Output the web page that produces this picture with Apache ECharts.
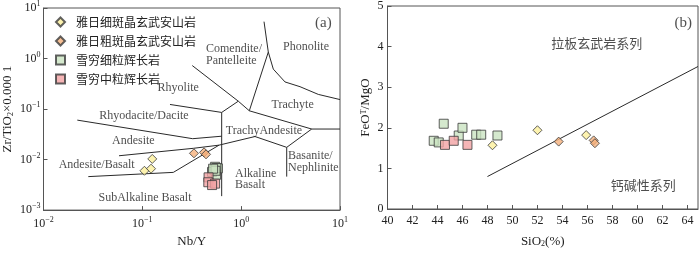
<!DOCTYPE html>
<html><head><meta charset="utf-8">
<script src="https://cdn.jsdelivr.net/npm/echarts@6/dist/echarts.min.js"></script>
<style>html,body{margin:0;padding:0;background:#fff}#c{width:700px;height:253px}</style>
</head><body><div id="c"></div>
<script>
const groupNames = ['雅日细斑晶玄武安山岩', '雅日粗斑晶玄武安山岩', '雪穷细粒辉长岩', '雪穷中粒辉长岩'];

// (a) Nb/Y vs Zr/TiO2*0.0001
const aYariFine = [[0.126, 0.0103], [0.105, 0.0060], [0.1225, 0.0066]];
const aYariCoarse = [[0.333, 0.0133], [0.421, 0.0139], [0.441, 0.0127]];
const aXueqiongFine = [[0.545, 0.0072], [0.582, 0.0067], [0.53, 0.0062], [0.507, 0.0057], [0.557, 0.0050], [0.56, 0.0068], [0.55, 0.0060], [0.52, 0.0066]];
const aXueqiongMedium = [[0.468, 0.00445], [0.465, 0.00356], [0.545, 0.00334], [0.508, 0.00313]];
const aXTicks = [0.01, 0.1, 1, 10];
const aYTicks = [0.001, 0.01, 0.1, 1, 10];

// (a) field boundaries (Winchester & Floyd)
const bndRhyoliteComendite = [[0.320, 0.726], [0.935, 0.143], [1.209, 0.0924]];
const bndRhyoliteRhyodacite = [[0.1905, 0.1233], [0.635, 0.0857], [0.935, 0.143]];
const bndVertical = [[0.635, 0.0857], [0.635, 0.00189]];
const bndComenditePhonolite = [[1.703, 5.37], [1.882, 1.342], [1.209, 0.0924]];
const bndPhonoliteTrachyte = [[1.882, 1.342], [2.114, 0.617], [2.777, 0.344], [3.94, 0.277], [6.03, 0.195], [10, 0.154]];
const bndTrachyteTrAn = [[1.209, 0.0924], [5.17, 0.0402], [10, 0.0402]];
const bndRhyodaciteAndesite = [[0.02198, 0.0604], [0.3233, 0.0259], [0.635, 0.0290]];
const bndAndesiteBasalt = [[0.0581, 0.0119], [0.328, 0.0167], [0.597, 0.0193], [1.380, 0.0286], [2.889, 0.01745], [5.17, 0.0402]];
const bndBasanite = [[2.889, 0.01745], [2.889, 0.0046]];
const bndSubalkaline = [[0.0284, 0.0046], [0.2058, 0.00558], [0.597, 0.0193]];
const boundaries = [bndRhyoliteComendite, bndRhyoliteRhyodacite, bndVertical, bndComenditePhonolite, bndPhonoliteTrachyte, bndTrachyteTrAn, bndRhyodaciteAndesite, bndAndesiteBasalt, bndBasanite, bndSubalkaline];

const fieldLabelsCenter = [
  [4.53, 1.67, 'Phonolite'], [0.231, 0.268, 'Rhyolite'], [3.32, 0.120, 'Trachyte'],
  [0.104, 0.0741, 'Rhyodacite/Dacite'], [1.70, 0.0373, 'TrachyAndesite'], [0.0811, 0.0230, 'Andesite'],
  [0.0345, 0.00804, 'Andesite/Basalt'], [0.1064, 0.00173, 'SubAlkaline Basalt']
];
const fieldLabelsLeft = [
  [0.441, 1.20, 'Comendite/\nPantelleite'], [2.98, 0.00895, 'Basanite/\nNephlinite'], [0.866, 0.00407, 'Alkaline\nBasalt']
];
const panelA = [[6.78, 5.13, '(a)']];

// (b) SiO2 vs FeOT/MgO
const bYariFine = [[48.4, 1.57], [52.0, 1.94], [55.9, 1.82]];
const bYariCoarse = [[53.7, 1.66], [56.5, 1.69], [56.6, 1.62]];
const bXueqiongFine = [[43.7, 1.68], [44.1, 1.64], [44.5, 2.10], [45.7, 1.81], [46.0, 2.0], [47.1, 1.83], [47.5, 1.83], [48.8, 1.81]];
const bXueqiongMedium = [[44.6, 1.58], [45.3, 1.68], [46.4, 1.58]];
const bDivider = [[48, 0.8], [64.85, 3.51]];
const bLabels = [[56.74, 4.08, '拉板玄武岩系列'], [60.46, 0.60, '钙碱性系列']];
const panelB = [[63.66, 4.57, '(b)']];
const bXRange = [40, 64.85];
const bYRange = [0, 5];

const serif = '"Liberation Serif", "Times New Roman", serif';
const cjk = '"Noto Sans CJK SC", sans-serif';
const textColor = '#222';
const axisColor = '#555';
const colors = ['#fcf09c', '#f5b07c', '#cbe4c2', '#f3a2a4'];
const symbols = ['diamond', 'diamond', 'rect', 'rect'];
const sizes = [9, 9, 9, 9];

const supRich = {
  b: {fontSize: 12, fontFamily: serif, color: textColor, lineHeight: 16},
  s: {fontSize: 8, fontFamily: serif, color: textColor, lineHeight: 8, verticalAlign: 'top'}
};
function logFmt(v) {
  const e = Math.round(Math.log10(v));
  return '{b|10}{s|' + (e < 0 ? '−' : '') + Math.abs(e) + '}';
}

const series = [];
boundaries.forEach(b => series.push({
  type: 'line', xAxisIndex: 0, yAxisIndex: 0, data: b, showSymbol: false, silent: true,
  lineStyle: {color: '#2a2a2a', width: 1}, z: 1
}));
function labelSeries(data, xi, align, font, size, lh) {
  return {
    type: 'scatter', xAxisIndex: xi, yAxisIndex: xi, data: data, symbolSize: 1, silent: true,
    itemStyle: {color: 'rgba(0,0,0,0)'},
    label: {show: true, position: 'inside', align: align, formatter: p => p.data[2],
      fontFamily: font, fontSize: size, color: textColor, lineHeight: lh}, z: 2
  };
}
series.push(labelSeries(fieldLabelsCenter, 0, 'center', serif, 12, 12));
series.push(labelSeries(fieldLabelsLeft, 0, 'left', serif, 12, 11.7));
series.push(labelSeries(panelA, 0, 'center', serif, 15, 16));
series.push(labelSeries(panelB, 1, 'center', serif, 15, 16));
series.push(labelSeries(bLabels, 1, 'center', cjk, 13, 14));
series.push({type: 'line', xAxisIndex: 1, yAxisIndex: 1, data: bDivider, showSymbol: false, silent: true,
  lineStyle: {color: '#2a2a2a', width: 1}, z: 1});

const aGroups = [aYariFine, aYariCoarse, aXueqiongFine, aXueqiongMedium];
const bGroups = [bYariFine, bYariCoarse, bXueqiongFine, bXueqiongMedium];
[aGroups, bGroups].forEach((groups, gi) => {
  groups.forEach((d, i) => series.push({
    name: groupNames[i], type: 'scatter', xAxisIndex: gi, yAxisIndex: gi, data: d,
    symbol: symbols[i], symbolSize: sizes[i], z: 5,
    itemStyle: {color: colors[i], borderColor: '#3a3a3a', borderWidth: 1}
  }));
});

const option = {
  animation: false,
  backgroundColor: '#fff',
  legend: {
    data: groupNames.map((n, i) => ({name: n, icon: symbols[i]})),
    orient: 'vertical', left: 50, top: 11, itemWidth: 9, itemHeight: 9, itemGap: 7,
    selectedMode: false,
    textStyle: {fontFamily: cjk, fontSize: 12, color: textColor, lineHeight: 12, padding: [0, 0, 0, 6]}
  },
  grid: [
    {left: 43.5, top: 7.5, width: 296.5, height: 210, show: true, borderColor: axisColor, borderWidth: 1, containLabel: false},
    {left: 387.5, top: 5, width: 310.5, height: 208.3, show: true, borderColor: axisColor, borderWidth: 1, containLabel: false}
  ],
  xAxis: [
    {type: 'log', gridIndex: 0, logBase: 10, min: aXTicks[0], max: aXTicks[aXTicks.length - 1],
      axisLine: {lineStyle: {color: axisColor}}, axisTick: {inside: true, length: 4, lineStyle: {color: axisColor}},
      minorTick: {show: false}, splitLine: {show: false},
      axisLabel: {formatter: logFmt, rich: supRich, margin: 6},
      name: 'Nb/Y', nameLocation: 'middle', nameGap: 24,
      nameTextStyle: {fontFamily: serif, fontSize: 13, color: textColor}},
    {type: 'value', gridIndex: 1, min: bXRange[0], max: bXRange[1], interval: 2,
      axisLine: {lineStyle: {color: axisColor}}, axisTick: {inside: true, length: 4, lineStyle: {color: axisColor}},
      splitLine: {show: false},
      axisLabel: {fontFamily: serif, fontSize: 12, color: textColor, margin: 6, showMaxLabel: false,
        formatter: v => (Math.abs(v - Math.round(v)) < 1e-6 ? String(v) : '')},
      name: 'SiO{sub|2}(%)', nameLocation: 'middle', nameGap: 26,
      nameTextStyle: {fontFamily: serif, fontSize: 13, color: textColor,
        rich: {sub: {fontFamily: serif, fontSize: 8, color: textColor, lineHeight: 8, verticalAlign: 'bottom'}}}}
  ],
  yAxis: [
    {type: 'log', gridIndex: 0, logBase: 10, min: aYTicks[0], max: aYTicks[aYTicks.length - 1],
      axisLine: {lineStyle: {color: axisColor}}, axisTick: {inside: true, length: 4, lineStyle: {color: axisColor}},
      minorTick: {show: false}, splitLine: {show: false},
      axisLabel: {formatter: logFmt, rich: supRich, margin: 3},
      name: 'Zr/TiO{sub|2}×0.000 1', nameLocation: 'middle', nameGap: 29, nameRotate: 90,
      nameTextStyle: {fontFamily: serif, fontSize: 13, color: textColor, padding: [0, 0, 0, 0],
        rich: {sub: {fontFamily: serif, fontSize: 8, color: textColor, lineHeight: 8, verticalAlign: 'bottom'}}}},
    {type: 'value', gridIndex: 1, min: bYRange[0], max: bYRange[1], interval: 1,
      axisLine: {lineStyle: {color: axisColor}}, axisTick: {inside: true, length: 4, lineStyle: {color: axisColor}},
      splitLine: {show: false},
      axisLabel: {fontFamily: serif, fontSize: 12, color: textColor, margin: 4},
      name: 'FeO{sup|T}/MgO', nameLocation: 'middle', nameGap: 15, nameRotate: 90,
      nameTextStyle: {fontFamily: serif, fontSize: 13, color: textColor,
        rich: {sup: {fontFamily: serif, fontSize: 8, color: textColor, lineHeight: 8, verticalAlign: 'top'}}}}
  ],
  series: series
};
const chart = echarts.init(document.getElementById('c'), null, {renderer: 'canvas'});
chart.setOption(option);
</script></body></html>
